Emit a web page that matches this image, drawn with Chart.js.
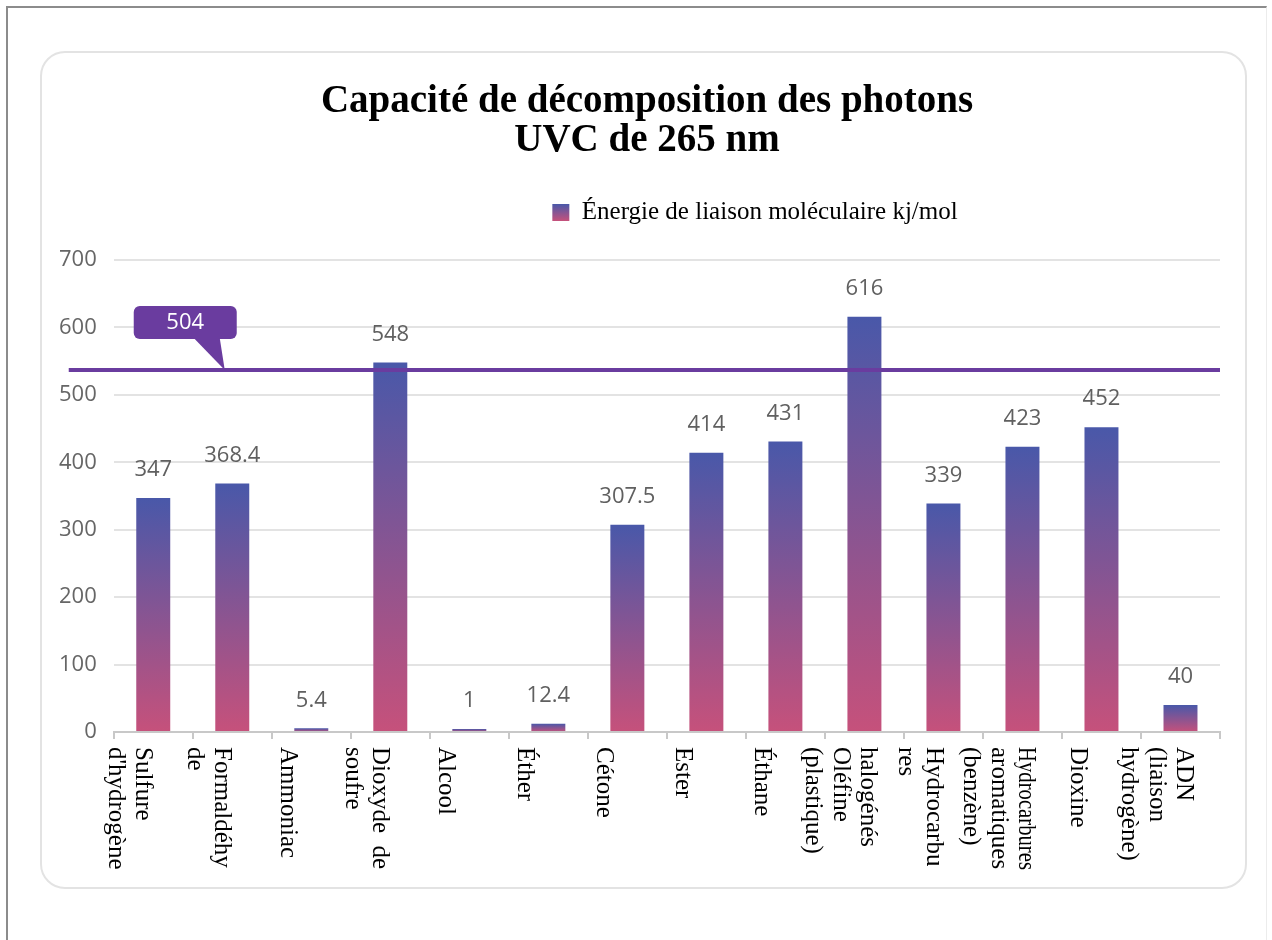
<!DOCTYPE html>
<html>
<head>
<meta charset="utf-8">
<title>Capacité de décomposition des photons UVC de 265 nm</title>
<script src="https://cdn.jsdelivr.net/npm/chart.js@4.4.1/dist/chart.umd.min.js"></script>
<style>
  html, body { margin: 0; padding: 0; background: #fff; }
  body { width: 1272px; height: 940px; position: relative; overflow: hidden; }
  .frame { position: absolute; left: 6px; top: 6px; right: 5px; bottom: -10px;
           border-top: 2px solid #8c8c8c; border-left: 2px solid #8c8c8c; border-right: 1px solid #ececec; }
  .card { position: absolute; left: 40px; top: 51px; width: 1203px; height: 834px;
          border: 2px solid #e3e3e3; border-radius: 25px; }
  #chart { position: absolute; left: 0; top: 0; }
</style>
</head>
<body>
<div class="frame"></div>
<div class="card"></div>
<canvas id="chart" width="1272" height="940"></canvas>
<script>
// values
const titleLines = ['Capacité de décomposition des photons', 'UVC de 265 nm'];
const seriesName = 'Énergie de liaison moléculaire kj/mol';
const categories = [
  ['Sulfure', "d'hydrogène"],
  ['Formaldéhy', 'de'],
  'Ammoniac',
  ['Dioxyde  de', 'soufre'],
  'Alcool',
  'Éther',
  'Cétone',
  'Ester',
  'Éthane',
  ['halogénés', 'Oléfine', '(plastique)'],
  ['Hydrocarbu', 'res'],
  ['Hydrocarbures', 'aromatiques', '(benzène)'],
  'Dioxine',
  ['ADN', '(liaison', 'hydrogène)']
];
const energies = [347, 368.4, 5.4, 548, 1, 12.4, 307.5, 414, 431, 616, 339, 423, 452, 40];
const yTicks = [0, 100, 200, 300, 400, 500, 600, 700];
// the purple line sits around 537 on the axis but its tag reads 504
const thresholdValue = 537;
const thresholdLabel = '504';

const serif = '"Liberation Serif", "Times New Roman", serif';
const sans = '"Open Sans", "Noto Sans", sans-serif';
const barTop = '#4958a9';
const barBottom = '#c6517b';
const purple = '#6a3c9f';

function barGradient(context) {
  const chart = context.chart;
  if (!chart.chartArea || context.type !== 'data') return '#7b5599';
  const y = chart.scales.y;
  const base = y.getPixelForValue(0);
  const top = Math.min(y.getPixelForValue(context.raw), base - 3);
  const g = chart.ctx.createLinearGradient(0, top, 0, base);
  g.addColorStop(0, barTop);
  g.addColorStop(1, barBottom);
  return g;
}

function legendLabels(chart) {
  const items = Chart.defaults.plugins.legend.labels.generateLabels(chart);
  const lg = chart.legend;
  if (lg && Number.isFinite(lg.top)) {
    const y0 = lg.top + 14;
    const g = chart.ctx.createLinearGradient(0, y0, 0, y0 + 17);
    g.addColorStop(0, barTop);
    g.addColorStop(1, barBottom);
    items.forEach(it => { it.fillStyle = g; it.strokeStyle = g; it.lineWidth = 0; });
  }
  return items;
}

// title and legend are nudged right; legend leaves a gap above the plot
const legendPlace = {
  id: 'legendPlace',
  beforeUpdate(chart) {
    const lg = chart.legend;
    if (lg && !lg._gapDone) {
      const fit = lg.fit;
      lg.fit = function () { fit.call(this); this.height += 25; };
      lg._gapDone = true;
    }
  },
  afterLayout(chart) {
    chart.legend.left += 124;
    chart.legend.right += 124;
    if (chart.titleBlock) {
      chart.titleBlock.left += 16;
      chart.titleBlock.right += 16;
    }
  }
};

const barValues = {
  id: 'barValues',
  afterDatasetsDraw(chart) {
    const ctx = chart.ctx;
    const meta = chart.getDatasetMeta(0);
    ctx.save();
    ctx.font = '22px ' + sans;
    ctx.fillStyle = '#606060';
    ctx.textAlign = 'center';
    ctx.textBaseline = 'middle';
    meta.data.forEach((bar, i) => {
      ctx.fillText(String(energies[i]), bar.x, bar.y - 28);
    });
    ctx.restore();
  }
};

const thresholdLine = {
  id: 'thresholdLine',
  afterDatasetsDraw(chart) {
    const ctx = chart.ctx;
    const area = chart.chartArea;
    const ly = chart.scales.y.getPixelForValue(thresholdValue);
    ctx.save();
    ctx.strokeStyle = purple;
    ctx.lineWidth = 4;
    ctx.beginPath();
    ctx.moveTo(area.left - 45, ly);
    ctx.lineTo(area.right, ly);
    ctx.stroke();

    const bx = area.left + 20, bw = 103, bh = 33, by = ly - 64;
    ctx.fillStyle = purple;
    ctx.beginPath();
    ctx.roundRect(bx, by, bw, bh, 6);
    ctx.fill();
    ctx.beginPath();
    ctx.moveTo(bx + 60, by + bh - 1);
    ctx.lineTo(bx + 86, by + bh - 1);
    ctx.lineTo(bx + 91, ly);
    ctx.closePath();
    ctx.fill();

    ctx.fillStyle = '#fff';
    ctx.font = '22px ' + sans;
    ctx.textAlign = 'center';
    ctx.textBaseline = 'middle';
    ctx.fillText(thresholdLabel, bx + bw / 2, by + bh / 2);
    ctx.restore();
  }
};

// category names turned a quarter clockwise, reading downwards
const rotatedLabels = {
  id: 'rotatedLabels',
  afterDraw(chart) {
    const ctx = chart.ctx;
    const xs = chart.scales.x;
    const startY = chart.chartArea.bottom + 15;
    const lh = 27.5;
    ctx.save();
    ctx.font = '25px ' + serif;
    ctx.fillStyle = '#000';
    ctx.textAlign = 'left';
    ctx.textBaseline = 'middle';
    categories.forEach((cat, i) => {
      const lines = Array.isArray(cat) ? cat : [cat];
      const cx = xs.getPixelForValue(i) - 24;
      lines.forEach((line, j) => {
        const lx = cx + ((lines.length - 1) / 2 - j) * lh;
        ctx.save();
        ctx.translate(lx, startY);
        ctx.rotate(Math.PI / 2);
        ctx.fillText(line, 0, 0, 123);
        ctx.restore();
      });
    });
    ctx.restore();
  }
};

const ctx = document.getElementById('chart').getContext('2d');
const chart = new Chart(ctx, {
  type: 'bar',
  data: {
    labels: categories,
    datasets: [{
      label: seriesName,
      data: energies,
      backgroundColor: barGradient,
      borderWidth: 0,
      barPercentage: 0.43,
      categoryPercentage: 1,
      minBarLength: 3
    }]
  },
  options: {
    responsive: false,
    animation: false,
    layout: { padding: { top: 55, left: 42, right: 52, bottom: 58 } },
    plugins: {
      title: {
        display: true,
        text: titleLines,
        color: '#000',
        font: { family: serif, size: 39, weight: 'bold', lineHeight: 1.0 },
        padding: { top: 27, bottom: 30 }
      },
      legend: {
        display: true,
        labels: {
          color: '#000',
          font: { family: serif, size: 25 },
          boxWidth: 17,
          boxHeight: 17,
          padding: 10,
          generateLabels: legendLabels
        }
      },
      tooltip: { enabled: false }
    },
    scales: {
      x: {
        grid: { drawOnChartArea: false, drawTicks: true, tickLength: 7, color: '#c8c8c8', lineWidth: 2 },
        border: { color: '#c8c8c8', width: 2 },
        ticks: { display: false },
        afterFit: (scale) => { scale.height = 150; }
      },
      y: {
        min: yTicks[0],
        max: yTicks[yTicks.length - 1],
        ticks: {
          stepSize: yTicks[1] - yTicks[0],
          color: '#666',
          font: { family: sans, size: 22 },
          padding: 17
        },
        grid: { color: '#e3e3e3', lineWidth: 2, drawTicks: false },
        border: { display: false }
      }
    }
  },
  plugins: [legendPlace, barValues, thresholdLine, rotatedLabels]
});
</script>
</body>
</html>
